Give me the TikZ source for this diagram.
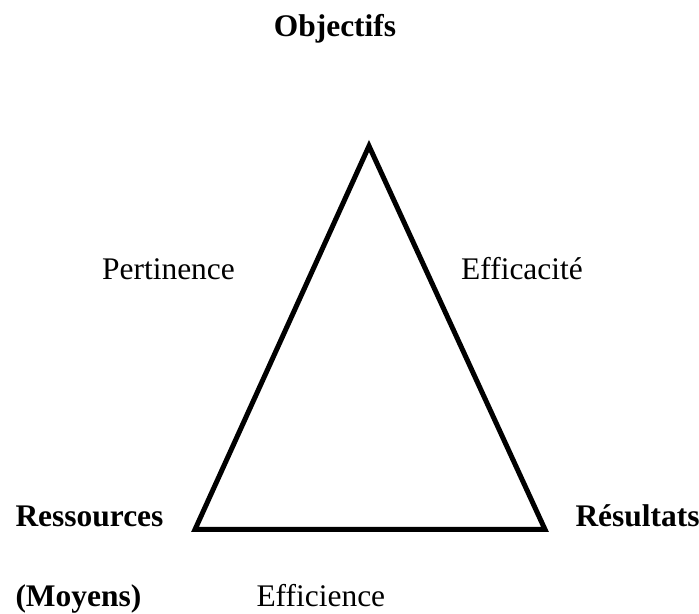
\documentclass[tikz,border=0pt]{standalone}
\usepackage{fontspec}
\setmainfont{Liberation Serif}
\usepackage{tikz}
\usetikzlibrary{positioning}

\tikzset{
  label/.style={inner sep=0pt, font=\fontsize{17.9pt}{21pt}\selectfont},
  pole/.style={label, font=\fontsize{17.9pt}{21pt}\selectfont\bfseries}
}

\begin{document}
\begin{tikzpicture}[line width=2.85pt]
        \useasboundingbox (0,0) rectangle (13.98,12.28);

        % Corners of the triangle.
        \coordinate (top) at (7.38,9.36);
        \coordinate (left) at (3.90,1.69);
        \coordinate (right) at (10.90,1.69);
        \draw[miter limit=20] (top) -- (right) -- (left) -- cycle;

        % Poles.
        \node[pole, anchor=base] (obj) at (6.70,11.54) {Objectifs};
        \node[pole, anchor=base west] (res) at (0.26,1.74) {Ressources};
        \node[pole, anchor=base west] (moy) at (0.26,0.14) {(Moyens)};
        \node[pole, anchor=base west] (resu) at (11.46,1.74) {Résultats};

        % Criteria.
        \node[label, anchor=base] (pert) at (3.37,6.68) {Pertinence};
        \node[label, anchor=base] (effa) at (10.44,6.68) {Efficacité};
        \node[label, anchor=base west] (effi) at (5.08,0.14) {Efficience};
    \end{tikzpicture}
\end{document}
